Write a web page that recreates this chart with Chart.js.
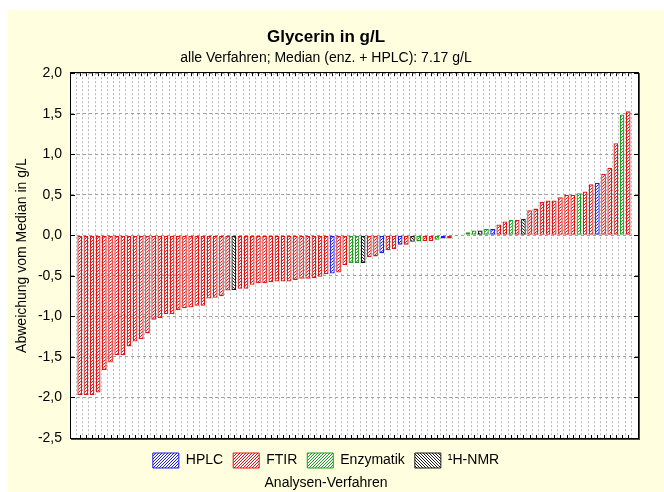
<!DOCTYPE html>
<html>
<head>
<meta charset="utf-8">
<title>Glycerin in g/L</title>
<script src="https://cdn.jsdelivr.net/npm/chart.js"></script>
<style>
  html, body { margin: 0; padding: 0; background: #fff; }
  canvas { display: block; }
</style>
</head>
<body>
<canvas id="chart" width="664" height="492"></canvas>
<script>
// Verfahren (Legende) und Farben
const methods = ['HPLC', 'FTIR', 'Enzymatik', '¹H-NMR'];
const methodCodes = ['H', 'F', 'E', 'N'];
const methodColors = ['#1c1ce8', '#dc1616', '#1f9c1f', '#1a1a1a'];

// je Labor: Verfahren und Abweichung vom Median (7.17 g/L), sortiert
const labMethod = [
  'F','F','F','F','F','F','F','F','F','F',
  'F','F','F','F','F','F','F','F','F','F',
  'F','F','F','F','F','N','F','F','F','F',
  'F','F','F','F','F','F','F','F','F','F',
  'F','H','F','F','E','E','N','F','F','H',
  'F','F','H','F','N','E','F','F','E','H',
  'F','E','E','E','E','N','E','H','F','F',
  'E','F','N','F','F','F','F','F','F','F',
  'F','E','F','F','H','F','F','F','E','F'
];
const deviation = [
  -1.97, -1.97, -1.97, -1.94, -1.66, -1.57, -1.48, -1.48, -1.37, -1.31,
  -1.28, -1.21, -1.04, -1.02, -0.97, -0.97, -0.92, -0.90, -0.89, -0.87,
  -0.87, -0.78, -0.77, -0.75, -0.68, -0.675, -0.66, -0.66, -0.61, -0.59,
  -0.59, -0.58, -0.57, -0.57, -0.57, -0.55, -0.535, -0.535, -0.53, -0.51,
  -0.48, -0.47, -0.46, -0.37, -0.34, -0.34, -0.34, -0.27, -0.26, -0.22,
  -0.185, -0.17, -0.115, -0.115, -0.08, -0.075, -0.07, -0.07, -0.055, -0.04,
  -0.04, -0.01, 0.01, 0.037, 0.06, 0.06, 0.08, 0.08, 0.135, 0.17,
  0.19, 0.19, 0.205, 0.31, 0.33, 0.41, 0.43, 0.43, 0.47, 0.50,
  0.50, 0.52, 0.54, 0.63, 0.65, 0.76, 0.835, 1.135, 1.49, 1.53
];

const yMin = -2.5, yMax = 2.0, yStep = 0.5;

const FONT = '"Liberation Sans", Arial, sans-serif';
Chart.defaults.font.family = FONT;
Chart.defaults.color = '#000';

const canvas = document.getElementById('chart');
const ctx = canvas.getContext('2d');

// schraffierte Füllung
function hatch(color, back) {
  const n = 3;
  const c = document.createElement('canvas');
  c.width = n; c.height = n;
  const g = c.getContext('2d');
  g.fillStyle = '#fff';
  g.fillRect(0, 0, n, n);
  g.fillStyle = color;
  for (let i = 0; i < n; i++) {
    g.fillRect(back ? i : n - 1 - i, i, 1, 1);
  }
  return ctx.createPattern(c, 'repeat');
}

const patterns = methodColors.map((c, i) => hatch(c, i === 3));

const datasets = methods.map((name, m) => ({
  label: name,
  data: deviation
    .map((v, i) => ({ x: i + 1, y: v, code: labMethod[i] }))
    .filter(p => p.code === methodCodes[m]),
  backgroundColor: patterns[m],
  borderColor: methodColors[m],
  borderWidth: 1.3,
  borderSkipped: false,
  grouped: false,
  barPercentage: 0.76,
  categoryPercentage: 1
}));

const pagePlugin = {
  id: 'page',
  beforeDraw(chart) {
    const { ctx, chartArea: a } = chart;
    ctx.save();
    ctx.fillStyle = '#fff';
    ctx.fillRect(0, 0, chart.width, chart.height);
    ctx.fillStyle = '#ffffe0';
    ctx.fillRect(8, 10, chart.width - 8, chart.height - 10);
    ctx.fillStyle = '#fff';
    ctx.fillRect(a.left, a.top, a.right - a.left, a.bottom - a.top);
    ctx.restore();
  },
  afterDraw(chart) {
    const { ctx, chartArea: a, scales } = chart;
    ctx.save();
    // Rahmen mit Schatten
    ctx.fillStyle = '#4a4a4a';
    ctx.fillRect(a.right, a.top, 2, a.bottom - a.top + 2);
    ctx.fillRect(a.left, a.bottom, a.right - a.left + 2, 2);
    ctx.strokeStyle = '#000';
    ctx.lineWidth = 1;
    ctx.strokeRect(Math.round(a.left) - 0.5, Math.round(a.top) - 0.5,
      Math.round(a.right - a.left) + 1, Math.round(a.bottom - a.top) + 1);
    // Teilstriche nach innen
    ctx.beginPath();
    scales.x.ticks.forEach(t => {
      const px = Math.round(scales.x.getPixelForValue(t.value)) + 0.5;
      ctx.moveTo(px, a.top); ctx.lineTo(px, a.top + 3);
      ctx.moveTo(px, a.bottom); ctx.lineTo(px, a.bottom - 3);
    });
    scales.y.ticks.forEach(t => {
      const py = Math.round(scales.y.getPixelForValue(t.value)) + 0.5;
      ctx.moveTo(a.left, py); ctx.lineTo(a.left + 4, py);
      ctx.moveTo(a.right, py); ctx.lineTo(a.right - 4, py);
    });
    ctx.stroke();
    // Achsentitel unter der Legende
    const lg = chart.legend;
    ctx.fillStyle = '#000';
    ctx.font = '14px ' + FONT;
    ctx.textAlign = 'center';
    ctx.textBaseline = 'middle';
    ctx.fillText('Analysen-Verfahren', (lg.left + lg.right) / 2, lg.bottom + 5);
    ctx.restore();
  }
};

new Chart(ctx, {
  type: 'bar',
  data: { datasets },
  plugins: [pagePlugin],
  options: {
    responsive: false,
    animation: false,
    devicePixelRatio: 1,
    layout: { padding: { left: 14, right: 26, top: 0, bottom: 14 } },
    plugins: {
      tooltip: { enabled: false },
      title: {
        display: true,
        text: 'Glycerin in g/L',
        font: { size: 17, weight: 'bold' },
        padding: { top: 27, bottom: 0 }
      },
      subtitle: {
        display: true,
        text: 'alle Verfahren; Median (enz. + HPLC): 7.17 g/L',
        font: { size: 14 },
        padding: { top: 2, bottom: 7 }
      },
      legend: {
        position: 'bottom',
        labels: {
          boxWidth: 26,
          boxHeight: 15,
          padding: 10,
          font: { size: 14 },
          generateLabels: () => methods.map((name, m) => ({
            text: name,
            fillStyle: patterns[m],
            strokeStyle: methodColors[m],
            lineWidth: 1,
            datasetIndex: m
          }))
        }
      }
    },
    scales: {
      x: {
        type: 'linear',
        min: 0.1,
        max: 91.08,
        afterBuildTicks: s => { s.ticks = deviation.map((v, i) => ({ value: i + 1 })); },
        afterFit: s => { s.height = 5; },
        ticks: { display: false },
        grid: { color: '#b8b8b8', drawTicks: false },
        border: { display: false, dash: [2, 2] }
      },
      y: {
        min: yMin,
        max: yMax,
        afterFit: s => { s.width = 57; },
        ticks: {
          stepSize: yStep,
          padding: 9,
          font: { size: 14 },
          callback: v => v.toFixed(1).replace('.', ',')
        },
        grid: { color: '#a0a0a0', drawTicks: false },
        border: { display: false, dash: [3, 3] },
        title: {
          display: true,
          text: 'Abweichung vom Median in g/L',
          font: { size: 14 },
          padding: { top: 0, bottom: 0 }
        }
      }
    }
  }
});
</script>
</body>
</html>
